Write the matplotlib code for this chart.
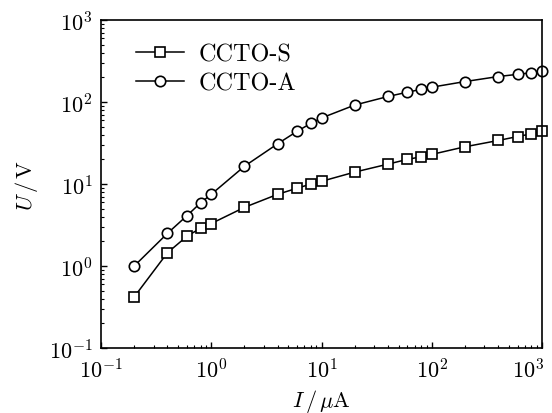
import matplotlib
matplotlib.use("Agg")
import matplotlib.pyplot as plt
from matplotlib.ticker import LogLocator
import matplotlib.transforms as mtransforms

# data
current = [0.2, 0.4, 0.6, 0.8, 1, 2, 4, 6, 8, 10, 20, 40, 60, 80, 100, 200, 400, 600, 800, 1000]
volt_s = [0.42, 1.45, 2.3, 2.9, 3.3, 5.2, 7.5, 8.9, 10, 10.8, 14, 17.5, 20, 21.5, 23, 28.5, 34, 38, 41, 44]
volt_a = [1.0, 2.5, 4.1, 5.9, 7.5, 16.5, 31, 44, 55, 64, 92, 117, 132, 143, 152, 178, 205, 218, 228, 238]
labels = ["CCTO-S", "CCTO-A"]

plt.rcParams["mathtext.fontset"] = "cm"
plt.rcParams["font.family"] = ["cmr10", "DejaVu Serif"]
plt.rcParams["axes.formatter.use_mathtext"] = True

fig = plt.figure(figsize=(5.52, 4.14), dpi=100)
ax = fig.add_axes([0.183, 0.157, 0.799, 0.792])

ax.plot(current, volt_s, "-s", color="black", mfc="white", mec="black",
        ms=6.5, mew=1.2, lw=1.1, label=labels[0], clip_on=False)
ax.plot(current, volt_a, "-o", color="black", mfc="white", mec="black",
        ms=7.5, mew=1.2, lw=1.1, label=labels[1], clip_on=False)

ax.set_xscale("log")
ax.set_yscale("log")
ax.set_xlim(0.1, 1000)
ax.set_ylim(0.1, 1000)
ax.xaxis.set_major_locator(LogLocator(base=10, numticks=10))
ax.yaxis.set_major_locator(LogLocator(base=10, numticks=10))
ax.xaxis.set_minor_locator(LogLocator(base=10, subs=range(2, 10), numticks=20))
ax.yaxis.set_minor_locator(LogLocator(base=10, subs=range(2, 10), numticks=20))
ax.tick_params(which="both", direction="in", labelsize=16)
ax.tick_params(which="major", length=4, width=1)
ax.tick_params(which="minor", length=2, width=0.8)
ax.tick_params(axis="x", pad=7)
ax.tick_params(axis="y", pad=6)
for s in ax.spines.values():
    s.set_linewidth(1.2)

ax.set_xlabel(r"$I\,/\,\mu\mathrm{A}$", fontsize=16, labelpad=4)
ax.set_ylabel(r"$U\,/\,\mathrm{V}$", fontsize=16, labelpad=6)

ax.legend(loc="upper left", frameon=False, fontsize=17.5, handlelength=2.0,
          handletextpad=0.6, labelspacing=0.25, borderaxespad=0.3,
          bbox_to_anchor=(0.04, 0.98))

# nudge the 10^3 label on x left so it stays inside the figure
fig.canvas.draw()
for tick in ax.xaxis.get_major_ticks():
    if abs(tick.get_loc() - 1000) < 1e-6:
        lab = tick.label1
        lab.set_transform(lab.get_transform() +
                          mtransforms.ScaledTranslation(-10 / 72, 0, fig.dpi_scale_trans))

fig.savefig("out.png", dpi=100)
